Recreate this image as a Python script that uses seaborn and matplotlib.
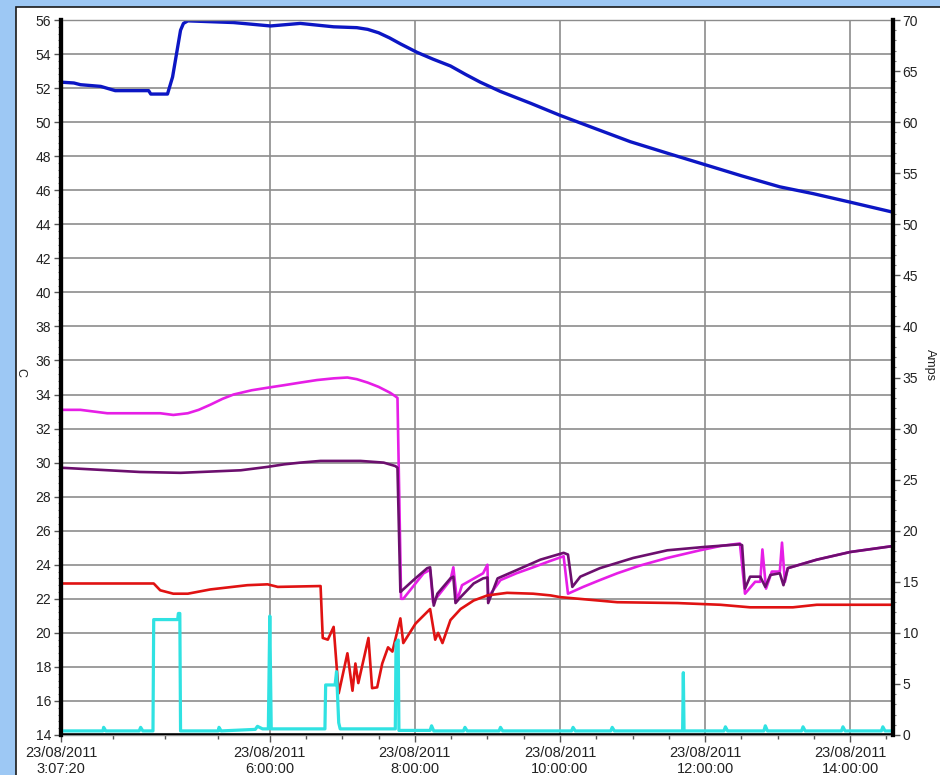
import matplotlib
matplotlib.use("Agg")
import matplotlib.pyplot as plt
from matplotlib.patches import Rectangle
from matplotlib.ticker import FixedLocator, MultipleLocator, AutoMinorLocator
import numpy as np
import seaborn as sns

sns.set_theme(style="white")
plt.rcParams["font.family"] = ["Liberation Sans", "DejaVu Sans"]

# Time axis: decimal hours on 23/08/2011
T_START = 3 + 7 / 60 + 20 / 3600
T_END = 14.59

tick_hours = [T_START, 6, 8, 10, 12, 14]
tick_labels = ["23/08/2011\n3:07:20", "23/08/2011\n6:00:00", "23/08/2011\n8:00:00",
               "23/08/2011\n10:00:00", "23/08/2011\n12:00:00", "23/08/2011\n14:00:00"]

# Temperatures (C, left axis)
blue_hours = [3.12, 3.30, 3.39, 3.67, 3.87, 4.33, 4.36, 4.59, 4.66, 4.73, 4.77, 4.81, 4.87,
              5.50, 6.01, 6.42, 6.88, 7.20, 7.35, 7.50, 7.65, 7.80, 8.03, 8.25, 8.49, 8.70,
              8.90, 9.18, 9.60, 10.00, 10.50, 10.97, 11.50, 12.00, 12.50, 13.03, 13.49,
              14.00, 14.55, 14.59]
blue_temp = [52.35, 52.3, 52.2, 52.1, 51.85, 51.85, 51.65, 51.65, 52.65, 54.4, 55.4, 55.8, 55.95,
             55.85, 55.65, 55.8, 55.6, 55.55, 55.45, 55.25, 54.95, 54.6, 54.1, 53.7, 53.3, 52.8,
             52.35, 51.8, 51.1, 50.4, 49.6, 48.85, 48.15, 47.5, 46.85, 46.2, 45.8,
             45.3, 44.75, 44.7]

magenta_hours = [3.12, 3.39, 3.76, 4.49, 4.67, 4.87, 5.02, 5.18, 5.35, 5.50, 5.75, 5.97, 6.20,
                 6.42, 6.65, 6.88, 7.07, 7.20, 7.35, 7.50, 7.66, 7.73, 7.76, 7.81, 7.84, 8.12,
                 8.21, 8.25, 8.49, 8.53, 8.58, 8.65, 8.94, 9.00, 9.01, 9.18, 9.40, 9.63, 9.85,
                 10.05, 10.11, 10.32, 10.55, 10.79, 11.10, 11.48, 11.93, 12.21, 12.48,
                 12.55, 12.69, 12.76, 12.79, 12.84, 12.92, 13.03, 13.06, 13.10, 13.14, 13.54,
                 14.00, 14.59]
magenta_temp = [33.1, 33.1, 32.9, 32.9, 32.8, 32.9, 33.1, 33.4, 33.75, 34.0, 34.25, 34.4, 34.55,
                34.7, 34.85, 34.95, 35.0, 34.9, 34.7, 34.45, 34.1, 33.9, 33.8, 22.0, 22.0, 23.5,
                23.7, 21.8, 23.1, 23.85, 21.9, 22.8, 23.5, 24.0, 22.1, 23.1, 23.5, 23.85, 24.2,
                24.5, 22.3, 22.7, 23.1, 23.5, 23.95, 24.4, 24.85, 25.1, 25.25,
                22.3, 23.0, 23.0, 24.9, 22.6, 23.6, 23.6, 25.3, 23.0, 23.8, 24.3,
                24.75, 25.1]

purple_hours = [3.12, 4.21, 4.77, 5.60, 5.97, 6.20, 6.42, 6.70, 7.25, 7.57, 7.73, 7.76, 7.80,
                7.98, 8.17, 8.21, 8.26, 8.31, 8.49, 8.53, 8.56, 8.63, 8.81, 8.94, 9.00, 9.01,
                9.14, 9.41, 9.73, 10.05, 10.11, 10.17, 10.28, 10.55, 11.01, 11.48, 12.00,
                12.48, 12.51, 12.55, 12.62, 12.76, 12.83, 12.90, 13.03, 13.08, 13.14, 13.54,
                14.00, 14.59]
purple_temp = [29.7, 29.45, 29.4, 29.55, 29.75, 29.9, 30.0, 30.1, 30.1, 30.0, 29.8, 29.7, 22.4,
               23.1, 23.8, 23.85, 21.6, 22.3, 23.2, 23.3, 21.75, 22.1, 22.9, 23.2, 23.25, 21.75,
               23.2, 23.7, 24.3, 24.7, 24.6, 22.7, 23.3, 23.8, 24.4, 24.85, 25.05,
               25.2, 25.15, 22.6, 23.3, 23.3, 22.7, 23.4, 23.5, 22.8, 23.8, 24.3,
               24.75, 25.1]

red_hours = [3.12, 4.12, 4.40, 4.49, 4.67, 4.87, 5.18, 5.69, 5.97, 6.11, 6.70, 6.73, 6.80,
             6.88, 6.95, 7.07, 7.14, 7.18, 7.22, 7.36, 7.41, 7.48, 7.55, 7.63, 7.69, 7.80,
             7.84, 8.01, 8.21, 8.28, 8.32, 8.38, 8.49, 8.63, 8.81, 9.00, 9.27, 9.63, 9.87,
             10.00, 10.79, 11.62, 12.21, 12.62, 13.21, 13.54, 14.59]
red_temp = [22.9, 22.9, 22.9, 22.5, 22.3, 22.3, 22.55, 22.8, 22.85, 22.7, 22.75, 19.7, 19.6,
            20.35, 16.45, 18.8, 16.6, 18.2, 17.05, 19.7, 16.75, 16.8, 18.2, 19.15, 18.9, 20.85,
            19.4, 20.55, 21.4, 19.6, 20.0, 19.4, 20.75, 21.4, 21.9, 22.2, 22.35, 22.3, 22.2,
            22.1, 21.8, 21.75, 21.65, 21.5, 21.5, 21.65, 21.65]

# Currents (Amps, right axis)
cyan_hours = [3.12, 3.70, 3.71, 3.74, 4.20, 4.22, 4.25, 4.39, 4.40, 4.73, 4.74, 4.76, 4.77,
              5.29, 5.30, 5.33, 5.80, 5.83, 5.90, 5.98, 6.00, 6.02, 6.76, 6.77, 6.90, 6.92,
              6.95, 6.97, 7.73, 7.74, 7.77, 7.78, 8.21, 8.23, 8.26, 8.67, 8.69, 8.72,
              9.16, 9.18, 9.21, 10.16, 10.18, 10.21, 10.70, 10.72, 10.75, 11.69, 11.70,
              11.71, 12.26, 12.28, 12.31, 12.81, 12.83, 12.86, 13.33, 13.35, 13.38,
              13.88, 13.90, 13.93, 14.43, 14.45, 14.48, 14.59]
cyan_amps = [0.4, 0.4, 0.75, 0.4, 0.4, 0.75, 0.4, 0.4, 11.3, 11.3, 11.9, 11.9, 0.4,
             0.4, 0.75, 0.4, 0.55, 0.85, 0.6, 0.6, 11.65, 0.6, 0.6, 4.9, 4.9, 6.2,
             1.2, 0.6, 0.6, 9.0, 9.3, 0.45, 0.45, 0.9, 0.4, 0.4, 0.75, 0.4,
             0.4, 0.75, 0.4, 0.4, 0.75, 0.4, 0.4, 0.75, 0.4, 0.4, 6.1,
             0.4, 0.4, 0.8, 0.4, 0.4, 0.9, 0.4, 0.4, 0.8, 0.4,
             0.4, 0.8, 0.4, 0.4, 0.8, 0.4, 0.4]

black_hours = [3.12, 14.59]
black_amps = [0.0, 0.0]

fig = plt.figure(figsize=(9.4, 7.75), dpi=100)
fig.patch.set_facecolor("#9dc8f4")
fig.add_artist(Rectangle((16 / 940, -0.01), 1.0, 1 - 7 / 775 + 0.01,
                         transform=fig.transFigure, facecolor="white",
                         edgecolor="#1a1a1a", linewidth=1.2, zorder=0))

ax = fig.add_axes([61 / 940, 1 - 735 / 775, (893 - 61) / 940, (735 - 20) / 775])
ax.set_facecolor("white")
ax2 = ax.twinx()
ax2.set_facecolor("none")

lw = 1.9
sns.lineplot(x=blue_hours, y=blue_temp, ax=ax, color="#0c16c4", linewidth=2.4,
             estimator=None, sort=False)
sns.lineplot(x=magenta_hours, y=magenta_temp, ax=ax, color="#e61ee6", linewidth=lw,
             estimator=None, sort=False)
sns.lineplot(x=purple_hours, y=purple_temp, ax=ax, color="#6c0f6e", linewidth=lw,
             estimator=None, sort=False)
sns.lineplot(x=red_hours, y=red_temp, ax=ax, color="#e01212", linewidth=lw,
             estimator=None, sort=False)
sns.lineplot(x=black_hours, y=black_amps, ax=ax2, color="black", linewidth=2.6,
             estimator=None, sort=False)
sns.lineplot(x=cyan_hours, y=cyan_amps, ax=ax2, color="#30e2e2", linewidth=2.3,
             estimator=None, sort=False)

ax.set_xlim(T_START, T_END)
ax.set_ylim(14, 56)
ax2.set_ylim(0, 70)

# x ticks: labelled majors, four subdivisions between each
ax.xaxis.set_major_locator(FixedLocator(tick_hours))
ax.set_xticklabels(tick_labels)
minor_x = []
for a, b in zip(tick_hours[:-1], tick_hours[1:]):
    minor_x.extend(np.linspace(a, b, 5)[1:-1])
minor_x.append(14.5)
ax.xaxis.set_minor_locator(FixedLocator(minor_x))

ax.yaxis.set_major_locator(MultipleLocator(2))
ax.yaxis.set_minor_locator(AutoMinorLocator(5))
ax2.yaxis.set_major_locator(MultipleLocator(5))
ax2.yaxis.set_minor_locator(AutoMinorLocator(5))

ax.grid(True, which="major", color="#8c8c8c", linewidth=1.2)
ax.set_axisbelow(True)

for s in ("top", "bottom"):
    ax.spines[s].set_color("#8c8c8c")
    ax.spines[s].set_linewidth(1.0)
    ax2.spines[s].set_visible(False)
for a in (ax, ax2):
    a.spines["left"].set_color("black")
    a.spines["left"].set_linewidth(3.0)
    a.spines["right"].set_color("black")
    a.spines["right"].set_linewidth(3.0)

ax.tick_params(axis="x", which="major", direction="out", length=5, width=1,
               color="#555555", labelsize=10.5, labelcolor="#222222", pad=3, bottom=True)
ax.tick_params(axis="x", which="minor", direction="out", length=3, width=1,
               color="#555555", bottom=True)
ax.tick_params(axis="y", which="major", direction="out", length=5, width=1,
               color="#555555", labelsize=10, labelcolor="#222222", pad=2, left=True)
ax.tick_params(axis="y", which="minor", direction="out", length=2.5, width=0.8,
               color="#777777", left=True)
ax2.tick_params(axis="y", which="major", direction="out", length=5, width=1,
                color="#555555", labelsize=10, labelcolor="#222222", pad=2, right=True)
ax2.tick_params(axis="y", which="minor", direction="out", length=2.5, width=0.8,
                color="#777777", right=True)

ax.set_xlabel("")
ax.set_ylabel("")
ax2.set_ylabel("")

fig.text(20 / 940, 1 - 372 / 775, "C", rotation=270, ha="center", va="center",
         fontsize=9, color="#222222")
fig.text(930 / 940, 1 - 365 / 775, "Amps", rotation=270, ha="center", va="center",
         fontsize=9, color="#222222")

fig.savefig("out.png", dpi=100, facecolor=fig.get_facecolor())
